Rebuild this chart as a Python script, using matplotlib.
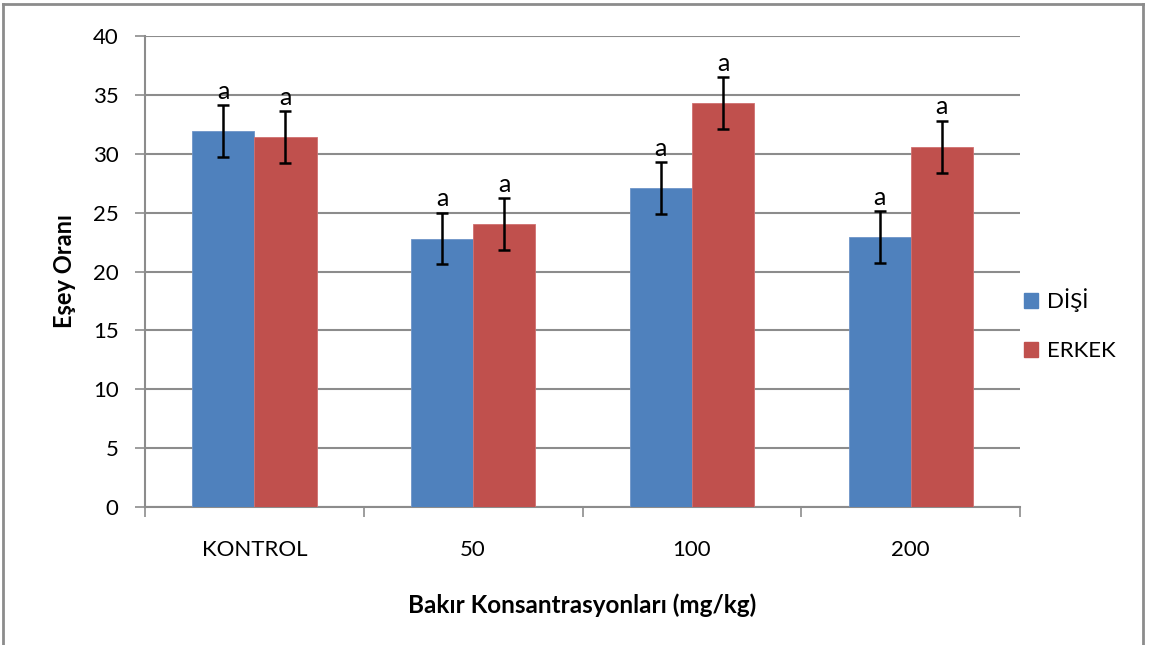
import matplotlib
matplotlib.use("Agg")
import matplotlib.pyplot as plt
from matplotlib.lines import Line2D
import numpy as np

categories = ["KONTROL", "50", "100", "200"]
disi = [31.9, 22.8, 27.1, 22.9]
erkek = [31.4, 24.0, 34.3, 30.6]
disi_err = [2.2, 2.2, 2.2, 2.2]
erkek_err = [2.2, 2.2, 2.2, 2.2]
disi_lbl = ["a", "a", "a", "a"]
erkek_lbl = ["a", "a", "a", "a"]
series_names = ["DİŞİ", "ERKEK"]
yticks = [0, 5, 10, 15, 20, 25, 30, 35, 40]

plt.rcParams['font.family'] = ['Lato', 'DejaVu Sans']

fig = plt.figure(figsize=(11.5, 6.45), dpi=100)
ax = fig.add_axes([145/1150, 1-507/645, (1020-145)/1150, (507-36)/645])

blue = "#4F81BD"
red = "#C0504D"
grid_c = "#8C8C8C"

x = np.arange(len(categories))
w = 0.284
ax.bar(x - w/2, disi, w, color=blue, edgecolor="#6F95C8", linewidth=0.6, zorder=3, label=series_names[0])
ax.bar(x + w/2, erkek, w, color=red, edgecolor="#D07070", linewidth=0.6, zorder=3, label=series_names[1])
ax.errorbar(x - w/2, disi, yerr=disi_err, fmt='none', ecolor='black', elinewidth=1.8, capsize=4.5, capthick=1.8, zorder=4)
ax.errorbar(x + w/2, erkek, yerr=erkek_err, fmt='none', ecolor='black', elinewidth=1.8, capsize=4.5, capthick=1.8, zorder=4)
for i in range(len(categories)):
    ax.text(x[i] - w/2, disi[i] + disi_err[i] + 0.2, disi_lbl[i], ha='center', va='bottom', fontsize=18, zorder=5)
    ax.text(x[i] + w/2, erkek[i] + erkek_err[i] + 0.2, erkek_lbl[i], ha='center', va='bottom', fontsize=18, zorder=5)

ax.set_xlim(-0.5, len(categories) - 0.5)
ax.set_ylim(0, 40)
ax.set_yticks(yticks)
ax.yaxis.grid(True, color=grid_c, linewidth=1.5, zorder=0)
ax.set_axisbelow(True)
for s in ["top", "right"]:
    ax.spines[s].set_visible(False)
ax.spines["left"].set_color(grid_c)
ax.spines["left"].set_linewidth(1.5)
ax.spines["bottom"].set_color(grid_c)
ax.spines["bottom"].set_linewidth(1.5)

ax.set_xticks(np.arange(-0.5, len(categories), 1.0))
ax.set_xticklabels([])
ax.set_xticks(x, minor=True)
ax.set_xticklabels(categories, minor=True, fontsize=16)
ax.tick_params(axis='x', which='major', length=7, width=1.2, color=grid_c, direction='out')
ax.tick_params(axis='x', which='minor', length=0, pad=24)
ax.tick_params(axis='y', length=7, width=1.2, color=grid_c, labelsize=16, pad=12)

ax.set_xlabel("Bakır Konsantrasyonları (mg/kg)", fontsize=17.5, fontweight='bold', labelpad=24)
ax.set_ylabel("Eşey Oranı", fontsize=17, fontweight='bold', labelpad=12)

# legend
handles = [plt.Rectangle((0, 0), 1, 1, color=blue), plt.Rectangle((0, 0), 1, 1, color=red)]
fig.legend(handles, series_names, loc='center left', bbox_to_anchor=(1024/1150, 1-325/645),
           frameon=False, fontsize=16, handlelength=0.65, handleheight=0.65, handletextpad=0.4,
           labelspacing=1.3, borderpad=0, borderaxespad=0)

# outer frame
fc = "#8C8C8C"
fig.add_artist(Line2D([3/1150, 3/1150], [0, 1-4/645], color=fc, lw=2, transform=fig.transFigure))
fig.add_artist(Line2D([3/1150, 1143/1150], [1-4/645, 1-4/645], color=fc, lw=2, transform=fig.transFigure))
fig.add_artist(Line2D([1143/1150, 1143/1150], [0, 1-4/645], color=fc, lw=2, transform=fig.transFigure))

fig.savefig("out.png", dpi=100)
